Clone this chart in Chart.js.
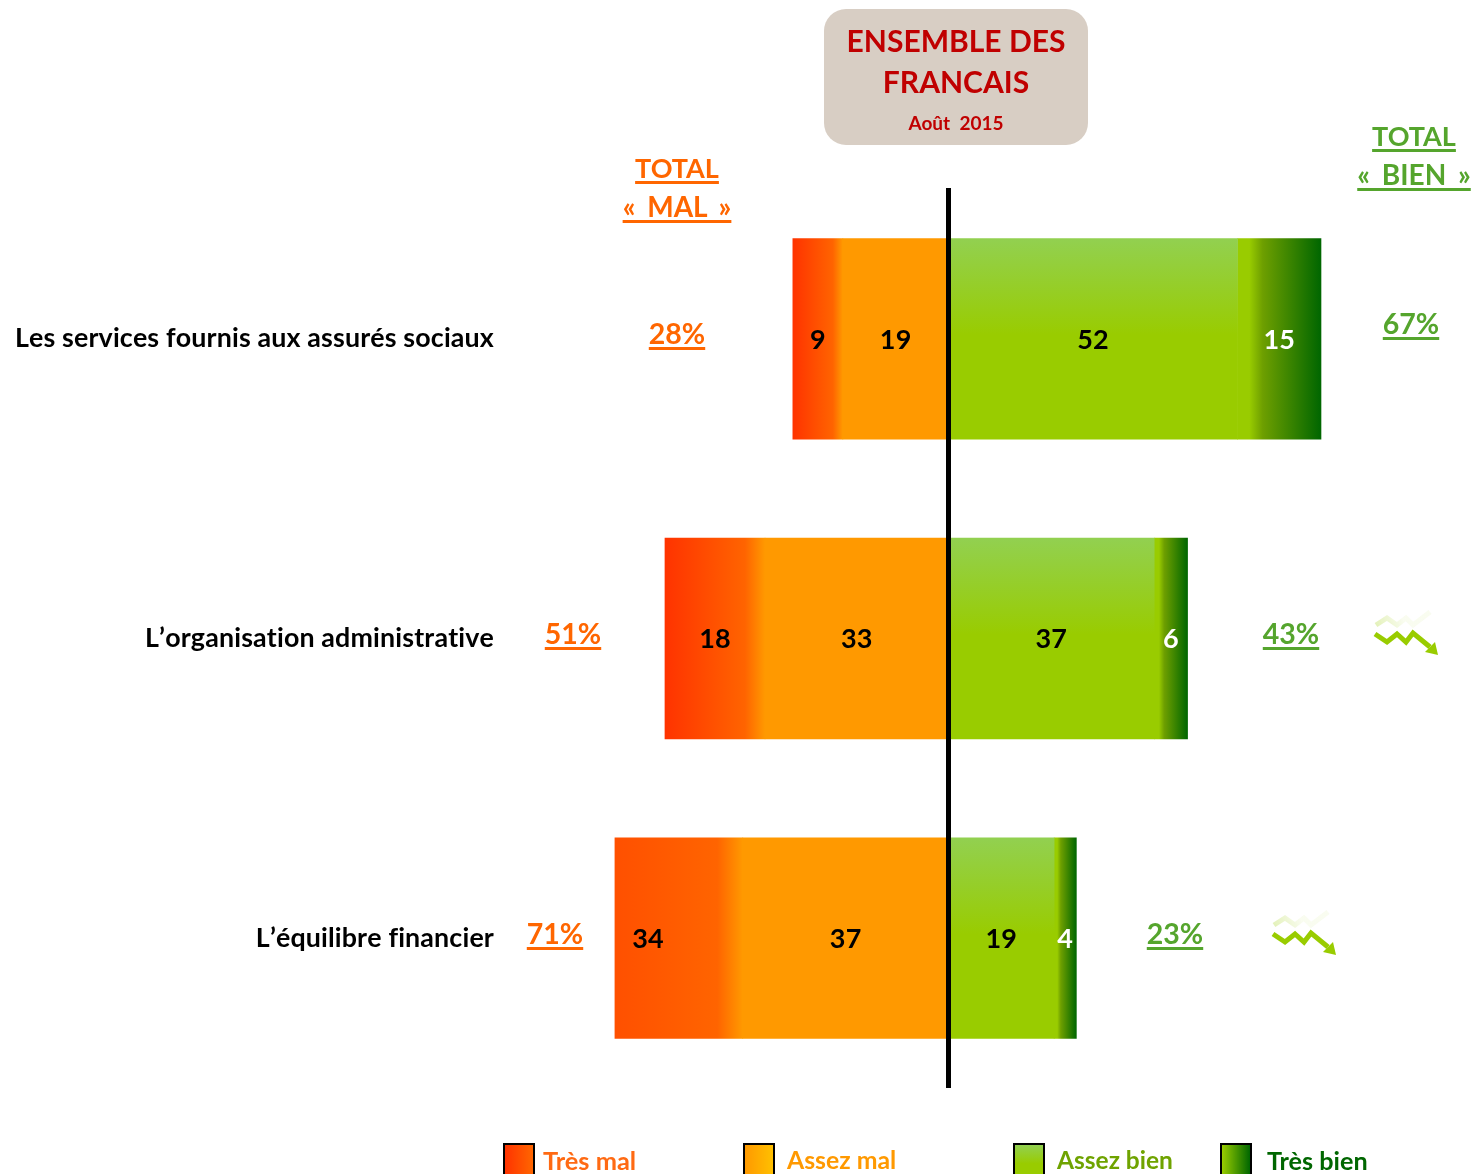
<!DOCTYPE html>
<html lang="fr"><head><meta charset="utf-8">
<script src="https://cdn.jsdelivr.net/npm/chart.js@4"></script>
<style>
html,body{margin:0;padding:0;background:#fff;width:1472px;height:1174px;overflow:hidden}
body{position:relative;font-family:Lato,sans-serif;font-weight:700}
canvas{position:absolute;left:0;top:0}
.t{position:absolute;white-space:nowrap;transform:translateX(-50%);text-decoration:underline;text-decoration-thickness:2.5px;text-underline-offset:3px;font-size:27px;line-height:38px;text-align:center}
.p{font-size:28.5px}
.w{word-spacing:5px;font-size:28px}
.o{color:#FF6600}.g{color:#55A52D}
#box{position:absolute;left:824px;top:9px;width:264px;height:136px;background:#D8CEC4;border-radius:22px;color:#C00000;text-align:center}
#box div{position:absolute;left:0;right:0}
.k{position:absolute;top:1143px;width:28px;height:34px;border:2px solid #000;border-bottom:0}
.l{position:absolute;top:1143px;font-size:24.8px;line-height:34px;white-space:nowrap}
svg{position:absolute;overflow:visible}
</style></head><body>
<canvas id="c" width="1472" height="1174"></canvas>
<div id="box"><div style="top:13px;font-size:30px;line-height:36px">ENSEMBLE DES</div><div style="top:54px;font-size:30px;line-height:36px">FRANCAIS</div><div style="top:102px;font-size:19px;line-height:24px">Août&nbsp; 2015</div></div>
<div class="t o" style="left:677px;top:149px">TOTAL</div><div class="t o w" style="left:677px;top:187px">« MAL »</div>
<div class="t g" style="left:1414px;top:117px">TOTAL</div><div class="t g w" style="left:1414px;top:155px">« BIEN »</div>
<div id="tot"></div>
<div class="k" style="left:503px;background:linear-gradient(90deg,#FF3300,#FF6600)"></div><div class="l" style="left:543px;color:#FF6A13;font-size:25.4px">Très mal</div>
<div class="k" style="left:743px;background:linear-gradient(90deg,#FF9900,#FFC000)"></div><div class="l" style="left:787px;color:#FF9900">Assez mal</div>
<div class="k" style="left:1013px;background:linear-gradient(180deg,#92D050,#99CC00 55%)"></div><div class="l" style="left:1057px;color:#6FA300;font-size:24.5px">Assez bien</div>
<div class="k" style="left:1220px;background:linear-gradient(90deg,#99CC00,#006600)"></div><div class="l" style="left:1267px;color:#006600;font-size:25.2px">Très bien</div>
<svg width="0" height="0"><defs><linearGradient id="fade" gradientUnits="userSpaceOnUse" x1="0" y1="12" x2="30" y2="-2"><stop offset="0" stop-color="#99CC00" stop-opacity=".32"/><stop offset="1" stop-color="#99CC00" stop-opacity=".06"/></linearGradient></defs></svg>
<svg style="left:1370px;top:615px" width="74" height="44" viewBox="0 0 74 44"><path d="M6 10L17 3L27 10L36 3L43 10L60 -3" fill="none" stroke="url(#fade)" stroke-width="5"/><path d="M5 19L17 27L27 19L36 27L43 18L60 32" fill="none" stroke="#99CC00" stroke-width="5"/><path d="M68 40L55 37L65 27Z" fill="#99CC00"/></svg>
<svg style="left:1268px;top:915px" width="74" height="44" viewBox="0 0 74 44"><path d="M6 10L17 3L27 10L36 3L43 10L60 -3" fill="none" stroke="url(#fade)" stroke-width="5"/><path d="M5 19L17 27L27 19L36 27L43 18L60 32" fill="none" stroke="#99CC00" stroke-width="5"/><path d="M68 40L55 37L65 27Z" fill="#99CC00"/></svg>
<script>
const categories=["Les services fournis aux assurés sociaux","L’organisation administrative","L’équilibre financier"];
// Printed values, as labelled in the picture
const tresMalLabels=[9,18,34];
const assezMalLabels=[19,33,37];
const assezBienLabels=[52,37,19];
const tresBienLabels=[15,6,4];
// Drawn length of "Très mal": the reference's third bar is shorter than its printed 34
const tresMalDrawn=[9,18,23];
const totalMal=["28%","51%","71%"];
const totalBien=["67%","43%","23%"];
const PX=5.56,ZERO=948.5,AXIS=494;
const totPos=[[677,1411,311],[573,1291,611],[555,1175,911]];
const host=document.getElementById('tot');
totPos.forEach((p,i)=>{
 host.insertAdjacentHTML('beforeend',`<div class="t o p" style="left:${p[0]}px;top:${p[2]+3}px">${totalMal[i]}</div><div class="t g p" style="left:${p[1]}px;top:${p[2]+(i==0?-7:3)}px">${totalBien[i]}</div>`);
});
const hz=(c,x0,x1,stops,fb)=>{if(!isFinite(x0)||!isFinite(x1))return fb;const g=c.chart.ctx.createLinearGradient(x0,0,x1,0);stops.forEach(s=>g.addColorStop(s[0],s[1]));return g;};
const xp=(c,v)=>c.chart.scales.x?c.chart.scales.x.getPixelForValue(v):NaN;
const fills={
 tm:c=>{const i=c.dataIndex,a=assezMalLabels[i];return hz(c,xp(c,-a-tresMalDrawn[i]),xp(c,-a),[[0,i==2?'#FF5000':'#FF3300'],[.8,'#FF6400'],[1,'#FF9900']],'#FF3300');},
 tb:c=>{const i=c.dataIndex,a=assezBienLabels[i];return hz(c,xp(c,a),xp(c,a+tresBienLabels[i]),[[0,'#99CC00'],[.14,'#99CC00'],[.3,'#6E9F00'],[1,'#006600']],'#006600');},
 ab:c=>{const s=c.chart.scales.y,y=s?s.getPixelForValue(c.dataIndex):NaN;if(!isFinite(y))return '#99CC00';const g=c.chart.ctx.createLinearGradient(0,y-100,0,y+100);g.addColorStop(0,'#92D050');g.addColorStop(.48,'#99CC00');g.addColorStop(1,'#99CC00');return g;}
};
const shown=[assezMalLabels,tresMalLabels,assezBienLabels,tresBienLabels];
const plug={id:'marks',
 beforeDraw(ch){ch.ctx.letterSpacing='0.15px';ch.ctx.fontKerning='none';},
 afterDatasetsDraw(ch){
 const c=ch.ctx,x=ch.scales.x.getPixelForValue(0),a=ch.chartArea;
 c.save();c.strokeStyle='#000';c.lineWidth=5;c.beginPath();c.moveTo(x,188);c.lineTo(x,a.bottom);c.stroke();
 c.font='700 27px Lato, sans-serif';c.textAlign='center';c.textBaseline='middle';
 ch.data.datasets.forEach((d,i)=>{ch.getDatasetMeta(i).data.forEach((b,j)=>{
  c.fillStyle=(i==3)?'#fff':'#000';
  let cx=(b.x+b.base)/2;
  if(i==1&&j==2)cx=648;
  c.fillText(String(shown[i][j]),cx,b.y+1);
 });});
 c.restore();
}};
new Chart(document.getElementById('c'),{type:'bar',plugins:[plug],
 data:{labels:categories,datasets:[
  {label:'Assez mal',data:assezMalLabels.map(v=>-v),backgroundColor:'#FF9900',stack:'s'},
  {label:'Très mal',data:tresMalDrawn.map(v=>-v),backgroundColor:fills.tm,stack:'s'},
  {label:'Assez bien',data:assezBienLabels,backgroundColor:fills.ab,stack:'s'},
  {label:'Très bien',data:tresBienLabels,backgroundColor:fills.tb,stack:'s'}
 ]},
 options:{indexAxis:'y',responsive:false,animation:false,
  layout:{padding:{top:189,bottom:86,left:0,right:0}},
  datasets:{bar:{barPercentage:.67,categoryPercentage:1,inflateAmount:.3}},
  plugins:{legend:{display:false},tooltip:{enabled:false},title:{display:false}},
  scales:{
   x:{display:false,stacked:true,min:-(ZERO-AXIS)/PX,max:(1472-ZERO)/PX},
   y:{stacked:true,grid:{display:false,drawTicks:false,tickLength:0},border:{display:false},
      afterFit(s){s.width=AXIS;},
      ticks:{color:'#000',padding:0,font:{family:'Lato',weight:'700',size:26.8},autoSkip:false}}
  }}
});
</script></body></html>
